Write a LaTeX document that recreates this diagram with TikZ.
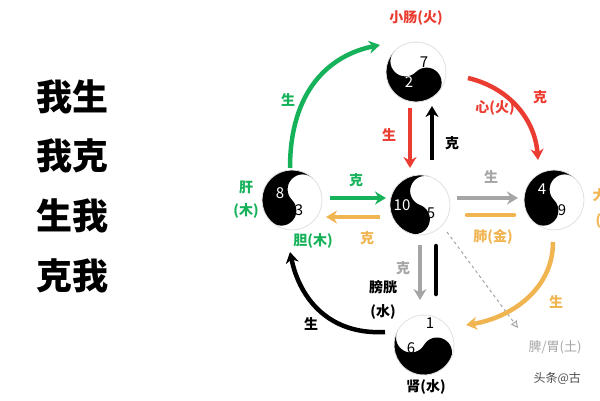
\documentclass[tikz,border=0pt]{standalone}
\usepackage{fontspec}
\setmainfont{Noto Sans CJK SC}
\usetikzlibrary{arrows.meta}
\definecolor{wxgreen}{RGB}{22,178,90}
\definecolor{wxred}{RGB}{235,60,50}
\definecolor{wxorange}{RGB}{240,180,80}
\definecolor{wxgrey}{RGB}{165,165,165}
\tikzset{
  flow/.style={line width=4.5pt,-{Stealth[length=11pt,width=13pt]}},
  bar/.style={line width=4.5pt,line cap=round},
  lbl/.style={font=\bfseries\fontsize{14}{16}\selectfont},
  big/.style={font=\bfseries\fontsize{36}{40}\selectfont},
  num/.style={font=\fontsize{15}{16}\selectfont,inner sep=0pt}
}
\newcommand{\yinyang}[3]{% center, rotation of black half, name
  \node[circle,minimum size=60pt,inner sep=0pt] (#3) at (#1) {};
  \begin{scope}[shift={(#1)},y=1pt,x=1pt,rotate=#2]
    \fill[white] (0,0) circle (30);
    \fill[black] (0,30) arc (90:-90:30) arc (-90:90:15) arc (270:90:15);
    \fill[white] (0,-15) circle (2.5);
    \fill[black] (0,15) circle (2.5);
    \draw[black!12,line width=0.8pt] (0,0) circle (30);
  \end{scope}}
\begin{document}
\begin{tikzpicture}[x=1pt,y=-1pt]
\useasboundingbox (0,0) rectangle (600,400);
\clip (0,0) rectangle (600,400);
% left column
\node[big] (t1) at (72,97) {我生};
\node[big] (t2) at (72,156) {我克};
\node[big] (t3) at (72,216) {生我};
\node[big] (t4) at (72,276) {克我};
% elements
\yinyang{416,72}{225}{fire}
\yinyang{292,200}{135}{wood}
\yinyang{420,205}{160}{earth}
\yinyang{554,200}{135}{metal}
\yinyang{424,345}{-120}{water}
% numbers
\node[num,black] (n7) at (424,62) {7};
\node[num,white] (n2) at (409,82) {2};
\node[num,white] (n8) at (280,193) {8};
\node[num,black] (n3) at (299,210) {3};
\node[num,white] (n10) at (402,205) {10};
\node[num,black] (n5) at (431,213) {5};
\node[num,white] (n4) at (542,189) {4};
\node[num,black] (n9) at (562,210) {9};
\node[num,black] (n1) at (430,323) {1};
\node[num,black] (n6) at (411,348) {6};
% connectors
\coordinate (g1) at (290,168); \coordinate (g2) at (380,45);
\draw[flow,wxgreen] (g1) .. controls (290,90) and (330,55) .. (g2);
\coordinate (r1) at (468,78); \coordinate (r2) at (538,160);
\draw[flow,wxred] (r1) .. controls (510,88) and (535,120) .. (r2);
\coordinate (rd1) at (410,108); \coordinate (rd2) at (410,168);
\draw[flow,wxred] (rd1) -- (rd2);
\coordinate (ku1) at (432,160); \coordinate (ku2) at (432,106);
\draw[flow,black] (ku1) -- (ku2);
\coordinate (gh1) at (330,198); \coordinate (gh2) at (386,198);
\draw[flow,wxgreen] (gh1) -- (gh2);
\coordinate (oh1) at (380,217); \coordinate (oh2) at (326,217);
\draw[flow,wxorange] (oh1) -- (oh2);
\coordinate (sh1) at (457,198); \coordinate (sh2) at (518,198);
\draw[flow,wxgrey] (sh1) -- (sh2);
\coordinate (ob1) at (467,215); \coordinate (ob2) at (514,215);
\draw[bar,wxorange] (ob1) -- (ob2);
\coordinate (d1) at (447,232); \coordinate (d2) at (518,328);
\draw[wxgrey,dashed,line width=1pt,-{Triangle[open,length=7pt,width=7pt]}] (d1) -- (d2);
\coordinate (oc1) at (553,242); \coordinate (oc2) at (466,325);
\draw[flow,wxorange] (oc1) .. controls (553,290) and (510,318) .. (oc2);
\coordinate (kd1) at (420,245); \coordinate (kd2) at (420,300);
\draw[flow,wxgrey] (kd1) -- (kd2);
\coordinate (kb1) at (436,246); \coordinate (kb2) at (436,294);
\draw[bar,black] (kb1) -- (kb2);
\coordinate (bc1) at (385,332); \coordinate (bc2) at (290,252);
\draw[flow,black] (bc1) .. controls (330,335) and (300,300) .. (bc2);
% labels
\node[lbl,wxred] (lfire) at (416,18) {小肠(火)};
\node[lbl,wxred] (lheart) at (495,108) {心(火)};
\node[lbl,wxgreen] (s1) at (288,100) {生};
\node[lbl,wxred] (k1) at (540,97) {克};
\node[lbl,wxred] (s2) at (389,135) {生};
\node[lbl,black] (k2) at (452,143) {克};
\node[lbl,wxgreen] (lliver) at (246,187) {肝};
\node[lbl,wxgreen] (lwood) at (246,211) {(木)};
\node[lbl,wxgreen] (k3) at (356,180) {克};
\node[lbl,wxorange] (k4) at (367,238) {克};
\node[lbl,wxgreen] (lgall) at (313,241) {胆(木)};
\node[lbl,wxgrey] (s3) at (491,177) {生};
\node[lbl,wxorange] (llung) at (493,237) {肺(金)};
\node[lbl,wxorange,anchor=west] (lcolon) at (589,195) {大};
\node[lbl,wxorange,anchor=west] (lmetal) at (592,221) {(};
\node[lbl,wxgrey] (k5) at (403,268) {克};
\node[lbl,black] (lblad) at (383,287) {膀胱};
\node[lbl,black] (lwater) at (383,312) {(水)};
\node[lbl,wxorange] (s4) at (556,302) {生};
\node[font=\fontsize{13}{15}\selectfont,wxgrey] (lspleen) at (555,347) {脾/胃(土)};
\node[lbl,black] (s5) at (311,324) {生};
\node[lbl,black] (lkid) at (426,387) {肾(水)};
\node[font=\fontsize{12}{14}\selectfont,black!70,anchor=west] (wm) at (530,378) {头条@古};
\end{tikzpicture}
\end{document}
